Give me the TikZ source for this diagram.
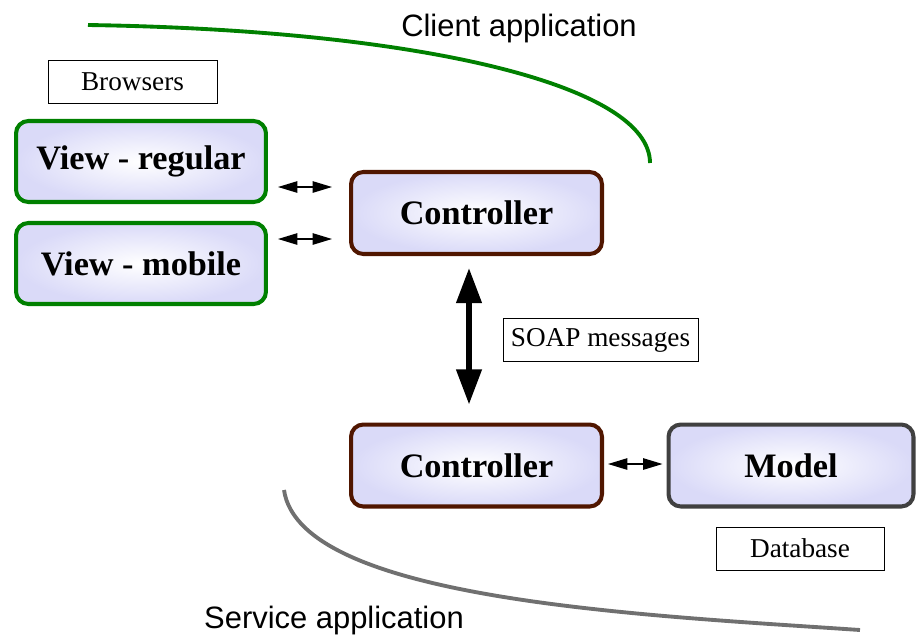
\documentclass[tikz,border=0pt]{standalone}
\usepackage{fontspec}
\setmainfont{Liberation Serif}
\newfontfamily\appfont{Liberation Sans}
\usetikzlibrary{arrows.meta, positioning, calc, shadings}
\definecolor{ViewGreen}{RGB}{0,128,0}
\definecolor{CtrlBrown}{RGB}{80,22,0}
\definecolor{ModelGray}{RGB}{64,64,64}
\definecolor{CurveGray}{RGB}{112,112,112}
\definecolor{BoxLav}{RGB}{218,218,248}
\tikzset{
  part/.style={
    rectangle, rounded corners=7pt, line width=2.3pt,
    inner color=white, outer color=BoxLav,
    font=\fontsize{19.5}{22}\selectfont\bfseries, text=black
  },
  view/.style={part, draw=ViewGreen, minimum width=5.0cm, minimum height=1.62cm},
  ctrl/.style={part, draw=CtrlBrown, minimum width=5.02cm, minimum height=1.64cm},
  modelbox/.style={part, draw=ModelGray, minimum width=4.9cm, minimum height=1.64cm},
  lbl/.style={
    rectangle, draw=black, line width=0.5pt, fill=white,
    minimum height=0.86cm, font=\fontsize{15.5}{17}\selectfont
  },
  apptxt/.style={font=\appfont\fontsize{17.6}{20}\selectfont},
  smarr/.style={{Triangle[length=11pt,width=6.5pt]}-{Triangle[length=11pt,width=6.5pt]}, line width=0.7pt},
  bigarr/.style={{Triangle[length=20pt,width=14pt]}-{Triangle[length=20pt,width=14pt]}, line width=3.2pt},
  appcurve/.style={line width=2.2pt}
}
\begin{document}
\begin{tikzpicture}[x=0.02cm, y=-0.02cm]
  \useasboundingbox (0,0) rectangle (916,637);

  % Client side
  \node[lbl, minimum width=3.38cm] (brw) at (132.5,82) {Browsers};
  \node[view] (vreg) at (141,161.5) {View - regular};
  \node[view] (vmob) at (141,263.5) {View - mobile};
  \node[ctrl] (ctrl) at (476.5,213) {Controller};

  % Service side
  \node[lbl, minimum width=3.9cm] (soap) at (600.5,340) {SOAP messages};
  \node[ctrl] (ctrl2) at (476.5,465.5) {Controller};
  \node[modelbox] (model) at (791,465.5) {Model};
  \node[lbl, minimum width=3.36cm] (db) at (800,548.5) {Database};

  % Application borders
  \coordinate (cl0) at (88,25);
  \coordinate (cl1) at (650,163);
  \draw[appcurve, ViewGreen] (cl0) .. controls (420,30) and (650,85) .. (cl1);
  \node[apptxt] (clt) at (519,28) {Client application};
  \coordinate (sv0) at (284,490);
  \coordinate (sv1) at (860,630);
  \draw[appcurve, CurveGray] (sv0) .. controls (300,600) and (640,615) .. (sv1);
  \node[apptxt] (svt) at (334,620) {Service application};

  % Arrows
  \draw[smarr] ([shift={(10,25.5)}]vreg.east) -- ([shift={(-17,-26)}]ctrl.west);
  \draw[smarr] ([shift={(10,-24.5)}]vmob.east) -- ([shift={(-17,26)}]ctrl.west);
  \draw[bigarr] ([shift={(-7.5,12)}]ctrl.south) -- ([shift={(-7.5,-18)}]ctrl2.north);
  \draw[smarr] ([shift={(4,-1.5)}]ctrl2.east) -- ([shift={(-4,-1.5)}]model.west);
\end{tikzpicture}
\end{document}
